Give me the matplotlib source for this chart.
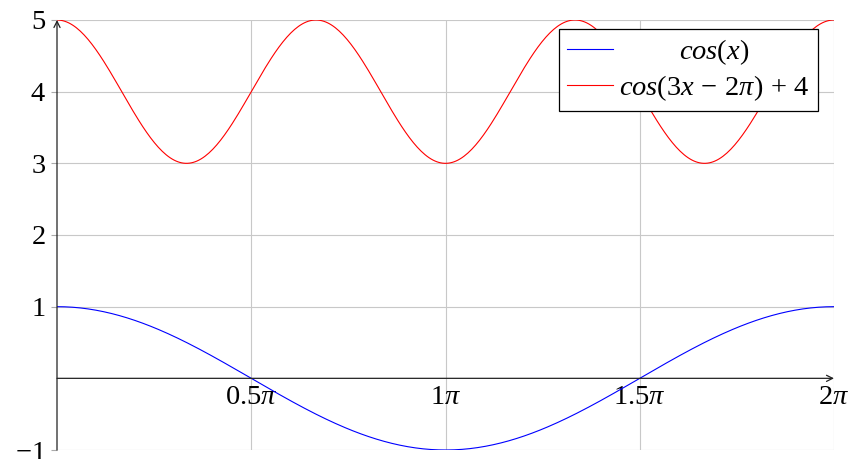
import numpy as np
import matplotlib
matplotlib.use("Agg")
import matplotlib.pyplot as plt

plt.rcParams["font.family"] = ["Liberation Serif", "DejaVu Serif"]
plt.rcParams["mathtext.fontset"] = "custom"
plt.rcParams["mathtext.rm"] = "Liberation Serif"
plt.rcParams["mathtext.it"] = "Liberation Serif:italic"

# samples on [0, 2pi]; the two curves named in the legend
x_vals = np.linspace(0, 2 * np.pi, 400)
cos_x = np.cos(x_vals)
cos_shift = np.cos(3 * x_vals - 2 * np.pi) + 4

series_labels = [r"$cos(x)$", r"$cos(3x\,-\,2\pi)\,+\,4$"]
series_colors = ["blue", "red"]

x_ticks = [0.5 * np.pi, np.pi, 1.5 * np.pi, 2 * np.pi]
x_ticklabels = [r"$0.5\pi$", r"$1\pi$", r"$1.5\pi$", r"$2\pi$"]
y_ticks = [-1, 1, 2, 3, 4, 5]
y_ticklabels = [r"$-1$", r"$1$", r"$2$", r"$3$", r"$4$", r"$5$"]

FS = 20.5

fig = plt.figure(figsize=(8.5, 4.59), dpi=100)
ax = fig.add_axes([57 / 850, 9 / 459, 777 / 850, 430 / 459])

lines = []
for yy, lab, col in zip([cos_x, cos_shift], series_labels, series_colors):
    l, = ax.plot(x_vals, yy, color=col, lw=0.8, label=lab, zorder=3)
    lines.append(l)

ax.set_xlim(0, 2 * np.pi)
ax.set_ylim(-1, 5)

ax.set_xticks(x_ticks)
ax.set_xticklabels(x_ticklabels)
ax.set_yticks(y_ticks)
ax.set_yticklabels(y_ticklabels)
ax.tick_params(axis="x", length=0, pad=5, labelsize=FS)
ax.tick_params(axis="y", length=4, pad=4, color="#aaaaaa", width=0.8, labelsize=FS)

ax.grid(True, color="#c8c8c8", lw=0.8, zorder=0)

# axis lines in the middle: tick labels follow the (hidden) spines
ax.spines["left"].set_position(("data", 0))
ax.spines["bottom"].set_position(("data", 0))
for s in ax.spines:
    ax.spines[s].set_visible(False)

ax.annotate("", xy=(2 * np.pi, 0), xytext=(0, 0),
            arrowprops=dict(arrowstyle="->", lw=0.9, color="#222222",
                            shrinkA=0, shrinkB=0, mutation_scale=11),
            zorder=4, annotation_clip=False)
ax.annotate("", xy=(0, 5), xytext=(0, -1),
            arrowprops=dict(arrowstyle="->", lw=0.9, color="#222222",
                            shrinkA=0, shrinkB=0, mutation_scale=11),
            zorder=4, annotation_clip=False)

leg = ax.legend(handles=lines, loc="upper right", bbox_to_anchor=(0.979, 0.979),
                borderaxespad=0, fancybox=False, framealpha=1, edgecolor="black",
                fontsize=FS, handlelength=1.6, handletextpad=0.2,
                labelspacing=0.2, borderpad=0.3)
leg.get_frame().set_linewidth(0.9)
for h in leg.get_lines():
    h.set_linewidth(0.8)

# center the legend texts like pgfplots does
fig.canvas.draw()
r = fig.canvas.get_renderer()
texts = leg.get_texts()
widths = [t.get_window_extent(r).width for t in texts]
wmax = max(widths)
for t, w in zip(texts, widths):
    t.set_position(((wmax - w) / 2, 0))

fig.savefig("out.png", dpi=100)
